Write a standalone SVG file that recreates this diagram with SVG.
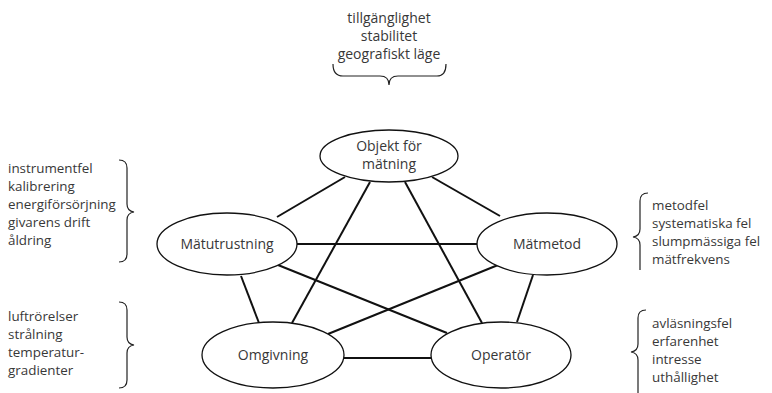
<svg xmlns="http://www.w3.org/2000/svg" width="772" height="393" viewBox="0 0 772 393">
<style>
text{font-family:"Open Sans","Noto Sans","Liberation Sans",sans-serif;font-size:14px;fill:#383838;}
.n{font-size:13.4px;}
.c{text-anchor:middle;}
.node ellipse{fill:#fff;stroke:#111;stroke-width:1.3;}
#connectors line{stroke:#111;stroke-width:2;}
.brace{fill:none;stroke:#222;stroke-width:1.2;}
</style>
<rect width="772" height="393" fill="#fff"/>
<g id="connectors">
<line x1="345" y1="177" x2="277" y2="217"/>
<line x1="432" y1="177" x2="500" y2="216"/>
<line x1="370" y1="182" x2="292" y2="323"/>
<line x1="405" y1="182" x2="482" y2="323"/>
<line x1="297" y1="244" x2="478" y2="244"/>
<line x1="241" y1="276" x2="259" y2="323"/>
<line x1="278" y1="265" x2="447" y2="333"/>
<line x1="498" y1="265" x2="328" y2="334"/>
<line x1="533" y1="275" x2="517" y2="322"/>
<line x1="342" y1="358" x2="432" y2="358"/>
</g>
<g id="objekt" class="node"><ellipse cx="389" cy="156" rx="69" ry="26"/><text class="c" x="389" y="151">Objekt för</text><text class="c" x="389" y="169">mätning</text></g>
<g id="matutrustning" class="node"><ellipse cx="227" cy="244" rx="70" ry="31"/><text class="c" x="227" y="249">Mätutrustning</text></g>
<g id="matmetod" class="node"><ellipse cx="547" cy="244" rx="70" ry="31"/><text class="c" x="547" y="249">Mätmetod</text></g>
<g id="omgivning" class="node"><ellipse cx="273" cy="355" rx="71" ry="33"/><text class="c" x="273" y="360">Omgivning</text></g>
<g id="operator" class="node"><ellipse cx="501" cy="355" rx="70" ry="33"/><text class="c" x="501" y="360">Operatör</text></g>
<g id="top-notes">
<text class="c" x="389" y="23">tillgänglighet</text>
<text class="c" x="389" y="41">stabilitet</text>
<text class="c" x="389" y="59">geografiskt läge</text>
<path class="brace" d="M333,64 Q333,76 343,76 L380,76 Q389,76 389,85 Q389,76 398,76 L437,76 Q446,76 446,64"/>
</g>
<g id="left-top-notes">
<text class="n" x="8" y="173">instrumentfel</text>
<text class="n" x="8" y="191">kalibrering</text>
<text class="n" x="8" y="209">energiförsörjning</text>
<text class="n" x="8" y="227">givarens drift</text>
<text class="n" x="8" y="245">åldring</text>
<path class="brace" d="M119,160 Q127,160 127,168 L127,204 Q127,211 134,212 Q127,213 127,220 L127,254 Q127,262 119,262"/>
</g>
<g id="left-bottom-notes">
<text class="n" x="8" y="321">luftrörelser</text>
<text class="n" x="8" y="339">strålning</text>
<text class="n" x="8" y="357">temperatur-</text>
<text class="n" x="8" y="375">gradienter</text>
<path class="brace" d="M119,302 Q127,302 127,310 L127,337 Q127,344 134,345 Q127,346 127,353 L127,380 Q127,388 119,388"/>
</g>
<g id="right-top-notes">
<text class="n" x="652" y="210">metodfel</text>
<text class="n" x="652" y="228">systematiska fel</text>
<text class="n" x="652" y="246">slumpmässiga fel</text>
<text class="n" x="652" y="264">mätfrekvens</text>
<path class="brace" d="M648,193 Q640,193 640,201 L640,229 Q640,236 633,237 Q640,238 640,245 L640,270"/>
</g>
<g id="right-bottom-notes">
<text class="n" x="652" y="328">avläsningsfel</text>
<text class="n" x="652" y="346">erfarenhet</text>
<text class="n" x="652" y="364">intresse</text>
<text class="n" x="652" y="382">uthållighet</text>
<path class="brace" d="M646,310 Q638,310 638,318 L638,344 Q638,351 631,352 Q638,353 638,360 L638,393"/>
</g>
</svg>
